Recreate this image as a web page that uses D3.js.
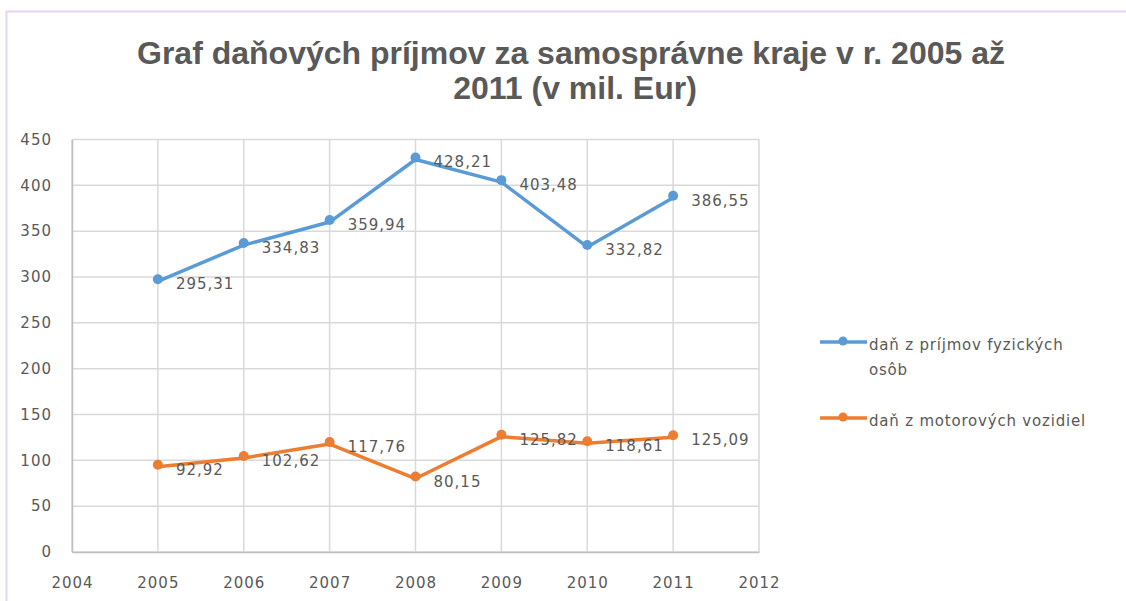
<!DOCTYPE html>
<html>
<head>
<meta charset="utf-8">
<script src="https://cdn.jsdelivr.net/npm/d3@7"></script>
<style>
  body { margin: 0; background: #fff; }
  svg { display: block; }
</style>
</head>
<body>
<div id="chart"></div>
<script>
// data
let years = [2005, 2006, 2007, 2008, 2009, 2010, 2011];
let fyzickeOsoby = [295.31, 334.83, 359.94, 428.21, 403.48, 332.82, 386.55];
let motoroveVozidla = [92.92, 102.62, 117.76, 80.15, 125.82, 118.61, 125.09];
let seriesNames = ["daň z príjmov fyzických osôb", "daň z motorových vozidiel"];
let xTicks = [2004, 2005, 2006, 2007, 2008, 2009, 2010, 2011, 2012];
let yTicks = [0, 50, 100, 150, 200, 250, 300, 350, 400, 450];

let w = 1126, h = 601;
let colors = ["#5b9bd5", "#ed7d31"];
let textColor = "#595959";
let tickFont = "DejaVu Sans, Verdana, sans-serif";

let svg = d3.select("#chart").append("svg")
    .attr("width", w)
    .attr("height", h)
;

// chart area border (only top and left are in the picture)
svg.append("path")
    .attr("d", "M6.5," + h + " L6.5,11.5 L" + w + ",11.5")
    .attr("fill", "none")
    .attr("stroke", "#e4d6fa")
    .attr("stroke-width", 2)
;

// title
let title = svg.append("text")
    .attr("text-anchor", "middle")
    .attr("fill", textColor)
    .style("font-family", "Liberation Sans, Arial, sans-serif")
    .style("font-weight", "bold")
    .style("font-size", "32px")
;
title.append("tspan").attr("x", 571).attr("y", 64).text("Graf daňových príjmov za samosprávne kraje v r. 2005 až");
title.append("tspan").attr("x", 575).attr("y", 99).text("2011 (v mil. Eur)");

let plotLeft = 72, plotRight = 759, plotTop = 139.5, plotBottom = 552;

let xScale = d3.scaleLinear().domain([2004, 2012]).range([plotLeft, plotRight]);
let yScale = d3.scaleLinear().domain([0, 450]).range([plotBottom, plotTop]);

// grid
let grid = svg.append("g").attr("class", "grid");
grid.selectAll(".hgrid").data(yTicks).enter().append("line")
    .attr("x1", plotLeft).attr("x2", plotRight)
    .attr("y1", d => yScale(d)).attr("y2", d => yScale(d))
    .attr("stroke", "#d9d9d9").attr("stroke-width", 1.5)
;
grid.selectAll(".vgrid").data(xTicks).enter().append("line")
    .attr("x1", d => xScale(d)).attr("x2", d => xScale(d))
    .attr("y1", plotTop).attr("y2", plotBottom)
    .attr("stroke", "#d9d9d9").attr("stroke-width", 1.5)
;

// axes
let yAxis = d3.axisLeft(yScale).tickValues(yTicks).tickSize(0).tickPadding(20);
let yAxisGroup = svg.append("g").attr("transform", "translate(" + plotLeft + ",0)").call(yAxis);
let xAxis = d3.axisBottom(xScale).tickValues(xTicks).tickSize(0).tickPadding(25).tickFormat(d3.format("d"));
let xAxisGroup = svg.append("g").attr("transform", "translate(0," + plotBottom + ")").call(xAxis);

[xAxisGroup, yAxisGroup].forEach(g => {
  g.select(".domain").attr("stroke", "#bfbfbf").attr("stroke-width", 1.5);
  g.selectAll("text")
    .attr("fill", textColor)
    .style("font-family", tickFont)
    .style("font-size", "15px")
    .style("letter-spacing", "1px");
});

// series
let allSeries = [fyzickeOsoby, motoroveVozidla];
let line = d3.line()
    .x((d, i) => xScale(years[i]))
    .y(d => yScale(d))
;

allSeries.forEach((values, s) => {
  let g = svg.append("g").attr("class", "series");
  g.append("path")
    .datum(values)
    .attr("d", line)
    .attr("fill", "none")
    .attr("stroke", colors[s])
    .attr("stroke-width", 3.5)
    .attr("stroke-linejoin", "round")
  ;
  g.selectAll("circle").data(values).enter().append("circle")
    .attr("cx", (d, i) => xScale(years[i]))
    .attr("cy", d => yScale(d) - 2)
    .attr("r", 5)
    .attr("fill", colors[s])
  ;
  g.selectAll("text").data(values).enter().append("text")
    .attr("x", (d, i) => xScale(years[i]) + 18)
    .attr("y", d => yScale(d) + 8)
    .attr("fill", textColor)
    .style("font-family", tickFont)
    .style("font-size", "15px")
    .style("letter-spacing", "1px")
    .text(d => d3.format(".2f")(d).replace(".", ","))
  ;
});

// legend
let legendY = [342, 418];
let legend = svg.append("g").attr("class", "legend");
seriesNames.forEach((name, s) => {
  let y = legendY[s];
  legend.append("line")
    .attr("x1", 820).attr("x2", 867)
    .attr("y1", y).attr("y2", y)
    .attr("stroke", colors[s]).attr("stroke-width", 3.5);
  legend.append("circle")
    .attr("cx", 843).attr("cy", y - 1).attr("r", 4.5)
    .attr("fill", colors[s]);
  let t = legend.append("text")
    .attr("fill", textColor)
    .style("font-family", tickFont)
    .style("font-size", "15px")
    .style("letter-spacing", "0.8px");
  if (s == 0) {
    t.append("tspan").attr("x", 869).attr("y", y + 8).text("daň z príjmov fyzických");
    t.append("tspan").attr("x", 869).attr("y", y + 33).text("osôb");
  } else {
    t.append("tspan").attr("x", 869).attr("y", y + 8).text(name);
  }
});
</script>
</body>
</html>
